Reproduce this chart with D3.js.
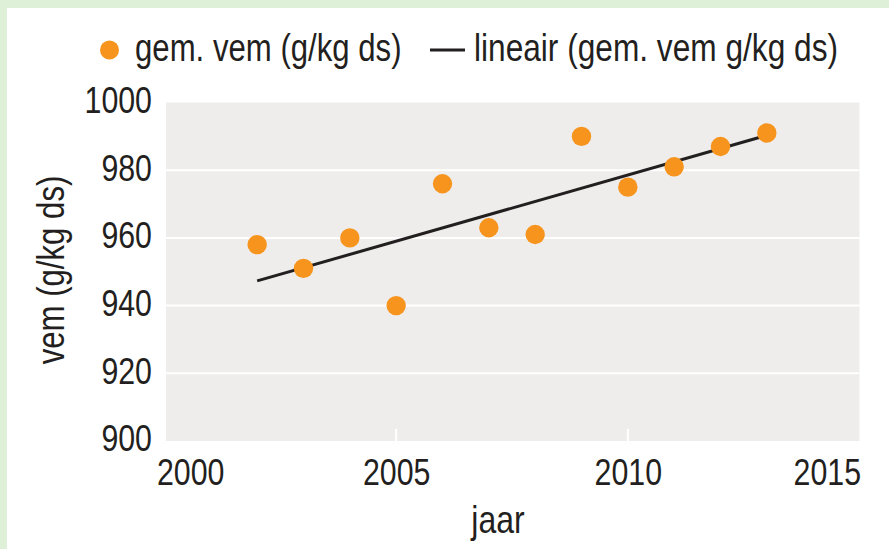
<!DOCTYPE html>
<html>
<head>
<meta charset="utf-8">
<script src="https://cdn.jsdelivr.net/npm/d3@7"></script>
<style>
  html, body { margin: 0; padding: 0; background: #ffffff; }
  svg { display: block; }
  text { font-family: "Liberation Sans", Arial, sans-serif; fill: #231f20; }
</style>
</head>
<body>
<svg id="chart" width="889" height="549"></svg>
<script>
// ---- data ----
const years = [2002, 2003, 2004, 2005, 2006, 2007, 2008, 2009, 2010, 2011, 2012, 2013];
const vemValues = [958, 951, 960, 940, 976, 963, 961, 990, 975, 981, 987, 991];
const trendYears = [2002, 2013];
const trendValues = [947.3, 990.3];
const yTicks = [900, 920, 940, 960, 980, 1000];
const xTicks = [2000, 2005, 2010, 2015];
const seriesNames = ["gem. vem (g/kg ds)", "lineair (gem. vem g/kg ds)"];
const xTitle = "jaar";
const yTitle = "vem (g/kg ds)";

const W = 889, H = 549;
const SQ = 0.82; // horizontal condensing of the font
const svg = d3.select("#chart");
const orange = "#f7941d", dark = "#231f20";

function squeeze(sel) {
  sel.each(function () {
    const t = d3.select(this);
    const ax = +t.attr("x") || 0, ay = +t.attr("y") || 0;
    const tr = t.attr("transform") || "";
    t.attr("transform", `${tr} translate(${ax},${ay}) scale(${SQ},1) translate(${-ax},${-ay})`);
  });
}

// frame
svg.append("rect").attr("x", 0).attr("y", 0).attr("width", W).attr("height", H).attr("fill", "#dff0d8");
svg.append("rect").attr("x", 7).attr("y", 8).attr("width", W - 7).attr("height", H - 8).attr("fill", "#ffffff");

const x = d3.scaleLinear().domain([2000, 2015]).range([164.5, 859.5]);
const y = d3.scaleLinear().domain([900, 1000]).range([441, 102.5]);

// plot background
svg.append("rect")
  .attr("x", x(2000) + 1.5).attr("y", y(1000))
  .attr("width", x(2015) - x(2000) - 1.5).attr("height", y(900) - y(1000))
  .attr("fill", "#eeedeb");

// gridlines
svg.append("g").selectAll("line").data(yTicks.filter(d => d > 900 && d < 1000)).join("line")
  .attr("x1", x(2000) + 1.5).attr("x2", x(2015))
  .attr("y1", d => y(d)).attr("y2", d => y(d))
  .attr("stroke", "#ffffff").attr("stroke-width", 2);

// white tick marks at bottom
svg.append("g").selectAll("line").data(xTicks.filter(d => d > 2000 && d < 2015)).join("line")
  .attr("x1", d => x(d)).attr("x2", d => x(d))
  .attr("y1", y(900) - 12).attr("y2", y(900))
  .attr("stroke", "#ffffff").attr("stroke-width", 2);

// y axis labels
const yAxis = d3.axisLeft(y).tickValues(yTicks).tickSize(0).tickPadding(0).tickFormat(d3.format("d"));
const gy = svg.append("g").attr("transform", `translate(${152},0)`).call(yAxis);
gy.select(".domain").remove();
gy.selectAll("text").attr("font-size", 37).attr("dy", "0.32em").attr("x", 0)
  .attr("font-family", null).attr("fill", dark).attr("transform", "translate(0,-2)")
  .call(squeeze);

// x axis labels
const xAxis = d3.axisBottom(x).tickValues(xTicks).tickSize(0).tickPadding(0).tickFormat(d3.format("d"));
const gx = svg.append("g").attr("transform", `translate(0,${485})`).call(xAxis);
gx.select(".domain").remove();
gx.selectAll("text").attr("font-size", 37).attr("dy", 0).attr("y", 0)
  .attr("font-family", null).attr("fill", dark)
  .attr("text-anchor", d => d === 2000 ? "start" : (d === 2015 ? "end" : "middle"))
  .attr("x", d => d === 2000 ? -8 : (d === 2015 ? 1 : 0))
  .call(squeeze);

// axis titles
svg.append("text").attr("x", 498).attr("y", 533).attr("text-anchor", "middle")
  .attr("font-size", 39).text(xTitle).call(squeeze);
svg.append("text").attr("x", 0).attr("y", 0)
  .attr("transform", `translate(64,270) rotate(-90)`).attr("text-anchor", "middle")
  .attr("font-size", 38).text(yTitle).call(squeeze);

// trend line
const line = d3.line().x(d => x(d[0])).y(d => y(d[1]));
svg.append("path").datum(trendYears.map((yr, i) => [yr, trendValues[i]]))
  .attr("d", line).attr("fill", "none").attr("stroke", dark).attr("stroke-width", 3);

// points
svg.append("g").selectAll("circle").data(years.map((yr, i) => [yr, vemValues[i]])).join("circle")
  .attr("cx", d => x(d[0])).attr("cy", d => y(d[1])).attr("r", 9.7)
  .attr("fill", orange);

// legend
const lg = svg.append("g");
lg.append("circle").attr("cx", 109.5).attr("cy", 50).attr("r", 9.5).attr("fill", orange);
lg.append("text").attr("x", 135).attr("y", 61).attr("font-size", 38).text(seriesNames[0]).call(squeeze);
lg.append("line").attr("x1", 430).attr("x2", 465).attr("y1", 50).attr("y2", 50)
  .attr("stroke", dark).attr("stroke-width", 3);
lg.append("text").attr("x", 474).attr("y", 61).attr("font-size", 38).text(seriesNames[1])
  .attr("textLength", 364 / SQ).attr("lengthAdjust", "spacingAndGlyphs").call(squeeze);
</script>
</body>
</html>
